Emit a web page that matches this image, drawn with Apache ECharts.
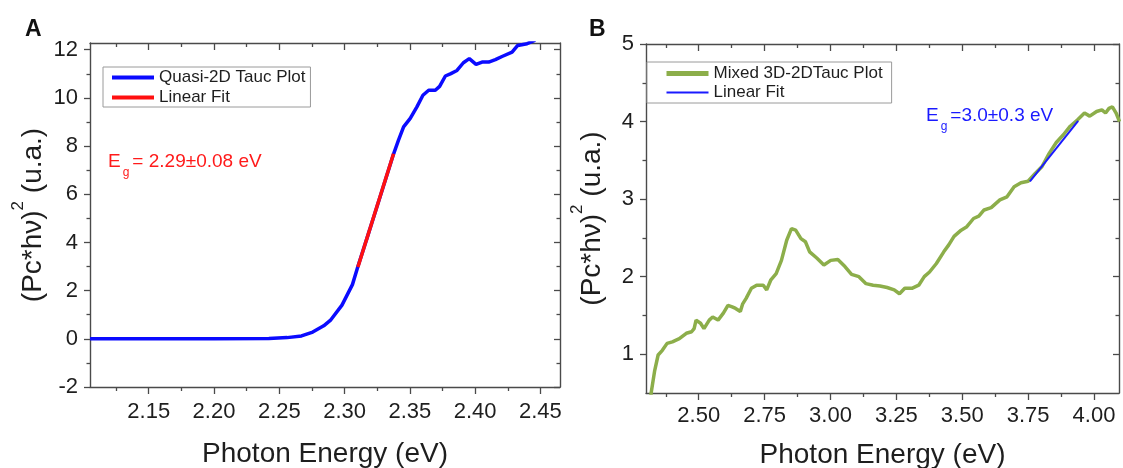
<!DOCTYPE html>
<html>
<head>
<meta charset="utf-8">
<script src="https://cdn.jsdelivr.net/npm/echarts@6/dist/echarts.min.js"></script>
<style>
  html, body { margin: 0; padding: 0; background: #fff; }
  #chart { width: 1123px; height: 468px; }
</style>
</head>
<body>
<div id="chart"></div>
<script>
// panel A: quasi-2D tauc plot
const aEnergy = [2.105, 2.15, 2.20, 2.242, 2.256, 2.267, 2.2756, 2.284, 2.2895, 2.298, 2.306, 2.3102,
  2.317, 2.324, 2.331, 2.3375, 2.3413, 2.3452, 2.3503, 2.3554, 2.36, 2.3644, 2.3695, 2.3728,
  2.3772, 2.381, 2.3861, 2.391, 2.3955, 2.4007, 2.4053, 2.4104, 2.4155, 2.4206, 2.4283,
  2.4326, 2.4398, 2.446]
const aSignal = [0, 0, 0, 0.01, 0.05, 0.12, 0.28, 0.54, 0.79, 1.40, 2.25, 3.0,
  4.15, 5.35, 6.55, 7.67, 8.25, 8.8, 9.15, 9.63, 10.11, 10.32, 10.32, 10.48,
  10.91, 11.0, 11.14, 11.46, 11.63, 11.39, 11.49, 11.49, 11.59, 11.72, 11.9,
  12.18, 12.25, 12.4]
const aFitEnergy = [2.3102, 2.3375]
const aFitSignal = [2.98, 7.68]
const aMajorX = [2.15, 2.20, 2.25, 2.30, 2.35, 2.40, 2.45]
const aMinorX = [2.125, 2.175, 2.225, 2.275, 2.325, 2.375, 2.425]
const aMajorY = [-2, 0, 2, 4, 6, 8, 10, 12]
const aMinorY = [-1, 1, 3, 5, 7, 9, 11]

// panel B: mixed 3D-2D tauc plot
const bEnergy = [2.315, 2.3195, 2.333, 2.346, 2.362, 2.38, 2.40, 2.4265, 2.453, 2.473, 2.4826, 2.49,
  2.507, 2.52, 2.54, 2.553, 2.5735, 2.5936, 2.611, 2.627, 2.64, 2.658, 2.667, 2.68, 2.70, 2.72,
  2.745, 2.758, 2.774, 2.794, 2.814, 2.834, 2.852, 2.868, 2.888, 2.905, 2.921, 2.948, 2.975,
  3.001, 3.028, 3.055, 3.08, 3.108, 3.135, 3.162, 3.188, 3.215, 3.242, 3.262, 3.282, 3.309,
  3.335, 3.356, 3.376, 3.402, 3.43, 3.449, 3.469, 3.496, 3.516, 3.543, 3.563, 3.583, 3.61,
  3.643, 3.67, 3.697, 3.723, 3.75, 3.777, 3.803, 3.83, 3.857, 3.884, 3.91, 3.937, 3.964,
  3.984, 4.01, 4.03, 4.044, 4.057, 4.07, 4.084, 4.097]
const bSignal = [0.3, 0.5, 0.79, 0.99, 1.05, 1.14, 1.16, 1.20, 1.27, 1.29, 1.33, 1.44,
  1.40, 1.33, 1.44, 1.48, 1.44, 1.53, 1.63, 1.61, 1.59, 1.55, 1.65, 1.72, 1.85, 1.89,
  1.89, 1.83, 1.96, 2.04, 2.21, 2.47, 2.62, 2.60, 2.49, 2.45, 2.32, 2.24, 2.15,
  2.21, 2.22, 2.13, 2.03, 2.00, 1.91, 1.89, 1.88, 1.86, 1.83, 1.78, 1.85, 1.85,
  1.89, 2.00, 2.06, 2.17, 2.32, 2.41, 2.52, 2.60, 2.64, 2.75, 2.78, 2.86, 2.89,
  2.99, 3.03, 3.16, 3.21, 3.23, 3.33, 3.42, 3.59, 3.73, 3.83, 3.94, 4.02, 4.11,
  4.07, 4.13, 4.15, 4.11, 4.17, 4.19, 4.11, 4.00]
const bFitEnergy = [3.757, 3.94]
const bFitSignal = [3.23, 4.01]
const bMajorX = [2.50, 2.75, 3.00, 3.25, 3.50, 3.75, 4.00]
const bMinorX = [2.375, 2.625, 2.875, 3.125, 3.375, 3.625, 3.875]
const bMajorY = [1, 2, 3, 4, 5]
const bMinorY = [1.5, 2.5, 3.5, 4.5]

const font = 'Liberation Sans'
const ink = '#1e1e1e'
const frame = '#4a4a4a'

const zip = (xs, ys) => xs.map((x, i) => [x, ys[i]])

const yName = '(Pc*hν){sup|2} (u.a.)'
const nameStyle = {
  fontSize: 28,
  fontFamily: font,
  color: ink,
  rich: {
    sup: { fontSize: 17, fontFamily: font, color: ink, verticalAlign: 'top', lineHeight: 46 }
  }
}

// 4 x axes per grid: bottom major/minor, top major/minor (mirrored inward)
function makeXAxes (grid, min, max, major, minor, margin, gap) {
  const base = { type: 'value', gridIndex: grid, min: min, max: max, splitLine: { show: false } }
  const line = { show: true, onZero: false, lineStyle: { color: frame, width: 1.4 } }
  const tick = (vals, len, inside) => ({
    show: true, inside: inside, customValues: vals, length: len,
    lineStyle: { color: frame, width: 1.3 }
  })
  return [
    Object.assign({}, base, {
      position: 'bottom',
      axisLine: line,
      axisTick: tick(major, 7, false),
      axisLabel: {
        customValues: major, formatter: v => v.toFixed(2), margin: margin,
        fontSize: 22, fontFamily: font, color: ink
      },
      name: 'Photon Energy (eV)',
      nameLocation: 'middle',
      nameGap: gap,
      nameTextStyle: { fontSize: 28, fontFamily: font, color: ink }
    }),
    Object.assign({}, base, {
      position: 'bottom', axisLine: { show: false, onZero: false },
      axisTick: tick(minor, 4, false), axisLabel: { show: false }
    }),
    Object.assign({}, base, {
      position: 'top', axisLine: line,
      axisTick: tick(major, 7, true), axisLabel: { show: false }
    }),
    Object.assign({}, base, {
      position: 'top', axisLine: { show: false, onZero: false },
      axisTick: tick(minor, 4, true), axisLabel: { show: false }
    })
  ]
}

function makeYAxes (grid, min, max, major, minor, gap) {
  const base = { type: 'value', gridIndex: grid, min: min, max: max, splitLine: { show: false } }
  const line = { show: true, onZero: false, lineStyle: { color: frame, width: 1.4 } }
  const tick = (vals, len, inside) => ({
    show: true, inside: inside, customValues: vals, length: len,
    lineStyle: { color: frame, width: 1.3 }
  })
  return [
    Object.assign({}, base, {
      position: 'left',
      axisLine: line,
      axisTick: tick(major, 6, false),
      axisLabel: {
        customValues: major, formatter: v => String(v), margin: 12,
        fontSize: 22, fontFamily: font, color: ink
      },
      name: yName,
      nameLocation: 'middle',
      nameGap: gap,
      nameTextStyle: nameStyle
    }),
    Object.assign({}, base, {
      position: 'left', axisLine: { show: false, onZero: false },
      axisTick: tick(minor, 3.5, false), axisLabel: { show: false }
    }),
    Object.assign({}, base, {
      position: 'right', axisLine: line,
      axisTick: tick(major, 6, true), axisLabel: { show: false }
    }),
    Object.assign({}, base, {
      position: 'right', axisLine: { show: false, onZero: false },
      axisTick: tick(minor, 3.5, true), axisLabel: { show: false }
    })
  ]
}

const egRich = (color) => ({
  m: { fontSize: 19, fontFamily: font, fill: color, lineHeight: 34 },
  s: { fontSize: 12, fontFamily: font, fill: color, verticalAlign: 'bottom', lineHeight: 12, padding: [0, 3, 0, 2] }
})

const chart = echarts.init(document.getElementById('chart'), null, { renderer: 'canvas' })

const legendBase = {
  orient: 'vertical', selectedMode: false,
  backgroundColor: '#fff', borderColor: '#9a9a9a', borderWidth: 1,
  itemWidth: 42, itemHeight: 14,
  itemStyle: { opacity: 0 },
  textStyle: { fontSize: 17, fontFamily: font, color: ink }
}

const option = {
  animation: false,
  backgroundColor: '#fff',
  grid: [
    { left: 90, top: 43, width: 470, height: 344, outerBoundsMode: 'none', containLabel: false },
    { left: 646, top: 44, width: 473, height: 349, outerBoundsMode: 'none', containLabel: false }
  ],
  xAxis: makeXAxes(0, 2.105, 2.465, aMajorX, aMinorX, 14, 53)
    .concat(makeXAxes(1, 2.30, 4.095, bMajorX, bMinorX, 12, 48)),
  yAxis: makeYAxes(0, -2, 12.28, aMajorY, aMinorY, 34)
    .concat(makeYAxes(1, 0.5, 5, bMajorY, bMinorY, 31)),
  legend: [
    Object.assign({}, legendBase, {
      left: 103, top: 67,
      padding: [2, 5, 1, 7], itemGap: 3,
      data: [
        { name: 'Quasi-2D Tauc Plot', lineStyle: { width: 4 } },
        { name: 'Linear Fit', lineStyle: { width: 4 } }
      ]
    }),
    Object.assign({}, legendBase, {
      left: 647, top: 62,
      padding: [3, 9, 2, 17], itemGap: 2,
      formatter: name => name.replace(' (B)', ''),
      data: [
        { name: 'Mixed 3D-2DTauc Plot', lineStyle: { width: 5 } },
        { name: 'Linear Fit (B)', lineStyle: { width: 2 } }
      ]
    })
  ],
  graphic: [
    { type: 'text', left: 25, top: 18, style: { text: 'A', fontSize: 23, fontWeight: 'bold', fontFamily: font, fill: '#111' } },
    { type: 'text', left: 589, top: 18, style: { text: 'B', fontSize: 23, fontWeight: 'bold', fontFamily: font, fill: '#111' } },
    {
      type: 'text', left: 108, top: 152,
      style: { text: '{m|E}{s|g}{m|= 2.29±0.08 eV}', rich: egRich('#ff1a1a') }
    },
    {
      type: 'text', left: 926, top: 106,
      style: { text: '{m|E}{s|g}{m|=3.0±0.3 eV}', rich: egRich('#1a1aff') }
    }
  ],
  series: [
    {
      name: 'Quasi-2D Tauc Plot', type: 'line', xAxisIndex: 0, yAxisIndex: 0,
      data: zip(aEnergy, aSignal), symbol: 'none', color: '#0b0bff',
      lineStyle: { width: 3.5, color: '#0b0bff' }
    },
    {
      name: 'Linear Fit', type: 'line', xAxisIndex: 0, yAxisIndex: 0,
      data: zip(aFitEnergy, aFitSignal), symbol: 'none', color: '#ff1010',
      lineStyle: { width: 3.5, color: '#ff1010' }
    },
    {
      name: 'Mixed 3D-2DTauc Plot', type: 'line', xAxisIndex: 4, yAxisIndex: 4,
      data: zip(bEnergy, bSignal), symbol: 'none', color: '#8cae4a',
      lineStyle: { width: 3.5, color: '#8cae4a' }
    },
    {
      name: 'Linear Fit (B)', type: 'line', xAxisIndex: 4, yAxisIndex: 4,
      data: zip(bFitEnergy, bFitSignal), symbol: 'none', color: '#1a1aff',
      lineStyle: { width: 2, color: '#1a1aff' }
    }
  ]
}

chart.setOption(option)
</script>
</body>
</html>
